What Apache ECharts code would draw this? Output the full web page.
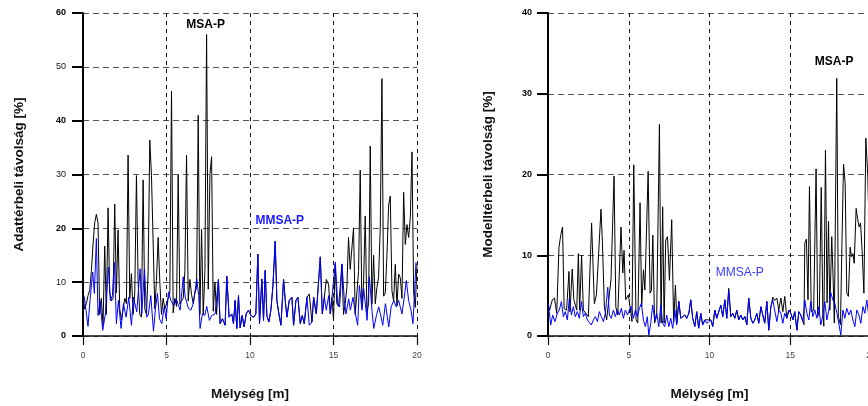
<!DOCTYPE html>
<html>
<head>
<meta charset="utf-8">
<script src="https://cdn.jsdelivr.net/npm/echarts@6/dist/echarts.min.js"></script>
<style>html,body{margin:0;padding:0;background:#fff;overflow:hidden;width:868px;height:406px;}#c{width:884px;height:406px;}</style>
</head>
<body>
<div id="c"></div>
<script>
// ---------- Tick labels ----------
var xTicks = [0, 5, 10, 15, 20];
var leftYBold = [0, 20, 40, 60];
var rightYBold = [0, 10, 20, 30, 40];
var titles = { xName: 'Mélység [m]', leftY: 'Adattérbeli távolság [%]', rightY: 'Modelltérbeli távolság [%]' };
var seriesNames = ['MSA-P', 'MMSA-P'];

// ---------- Left panel: MSA-P (black) ----------
var leftDepthMSA = [0.0,0.1,0.2,0.3,0.4,0.5,0.6,0.7,0.8,0.9,1.0,1.1,1.2,1.3,1.4,1.5,1.6,1.7,1.8,1.9,2.0,2.1,2.2,2.3,2.4,2.5,2.6,2.7,2.8,2.9,3.0,3.1,3.2,3.3,3.4,3.5,3.6,3.7,3.8,3.9,4.0,4.1,4.2,4.3,4.4,4.5,4.6,4.7,4.8,4.9,5.0,5.1,5.2,5.3,5.4,5.5,5.6,5.7,5.8,5.9,6.0,6.1,6.2,6.3,6.4,6.5,6.6,6.7,6.8,6.9,7.0,7.1,7.2,7.3,7.4,7.5,7.6,7.7,7.8,7.9,8.0,
8.11,8.21,8.35,8.51,8.61,8.75,8.91,9.01,9.11,9.21,9.31,9.41,9.53,9.65,9.77,9.91,10.05,10.21,10.35,10.47,10.57,10.71,10.81,10.91,11.01,11.13,11.25,11.37,11.51,11.61,11.73,11.85,12.01,12.11,12.21,12.35,12.51,12.61,12.75,12.87,13.01,13.13,13.25,13.41,13.55,13.71,13.81,13.97,14.07,14.21,14.33,14.45,14.57,14.71,14.81,14.91,
15.0,15.1,15.2,15.3,15.4,15.5,15.6,15.7,15.8,15.9,16.0,16.1,16.2,16.3,16.4,16.5,16.6,16.7,16.8,16.9,17.0,17.1,17.2,17.3,17.4,17.5,17.6,17.7,17.8,17.9,18.0,18.1,18.2,18.3,18.4,18.5,18.6,18.7,18.8,18.9,19.0,19.1,19.2,19.3,19.4,19.5,19.6,19.7,19.8,19.9,20.0];
var leftMSA = [7.5,5,6,7.5,8.5,12,17,21,22.6,21,4,7,2,16.7,4,23.8,8,6.5,7,24.5,8,19.7,5,3,5,7,6,33.6,7,11.6,4,8,29.8,10,4,3.5,29,5,4,12,36.4,29.8,29.8,5,10.3,18.3,10,4,7,5,6,6,8,45.5,4.3,7,5.5,29.9,5.9,6.5,7,12,33.6,6.5,10.5,7.7,6,8,9,41,4,19.8,4,12,56,8.7,30,33.3,4.6,10,4,
10.5,2.3,3.2,2.0,11.1,3.5,4.1,2.3,6.6,1.4,7.5,1.5,3.8,1.7,4.1,4.8,3.8,3.5,4.1,15.2,2.3,10.6,2.9,12.2,3.8,2.6,4.8,9.2,17.6,6.6,4.1,2.0,10.5,6.6,3.5,6.6,7.2,2.0,6.6,7.2,2.3,3.8,2.3,7.2,7.8,2.6,7.2,4.1,3.8,14.7,4.1,7.2,10.5,9.5,4.1,7.2,
3,13.3,6,5.5,9,13.3,4,6,9,18.3,12.4,12.5,20.1,4,3.7,12,30.8,5.3,10,22.3,4.5,6,35.3,5.9,15,6,9,11,20,47.8,7.4,8,15,24.3,26,8.4,6.5,13.3,5.6,11.5,10.8,7,26.7,17,20.7,18.3,22,34.2,8,5.3,13.5];

// ---------- Left panel: MMSA-P (blue) ----------
var leftDepthMMSA = [0.06,0.18,0.30,0.42,0.58,0.68,0.80,0.90,1.02,1.18,1.34,1.52,1.64,1.76,1.88,2.00,2.12,2.28,2.42,2.58,2.74,2.90,3.02,3.22,3.42,3.52,3.68,3.82,3.92,4.06,4.22,4.34,4.46,4.58,4.72,4.86,4.98,5.12,5.26,5.42,5.58,5.82,6.00,6.12,6.32,6.46,6.60,6.81,6.93,7.01,7.15,7.29,7.41,7.57,7.71,7.91,8.11,8.21,8.35,8.51,8.61,8.75,8.91,9.01,9.11,9.21,9.31,9.41,9.53,9.65,9.77,9.91,10.05,10.21,10.35,10.47,10.57,10.71,10.81,10.91,11.01,11.13,11.25,11.37,11.51,11.61,11.73,11.85,12.01,12.11,12.21,12.35,12.51,12.61,12.75,12.87,13.01,13.13,13.25,13.41,13.55,13.71,13.81,13.97,14.07,14.21,14.33,14.45,14.57,14.71,14.81,14.91,15.11,15.25,15.37,15.51,15.65,15.75,15.91,16.01,16.17,16.31,16.45,16.55,16.71,16.81,17.01,17.15,17.31,17.41,17.57,17.71,17.81,17.95,18.11,18.31,18.45,18.61,18.76,18.90,19.10,19.24,19.36,19.50,19.64,19.76,19.94];
var leftMMSA = [7.5,4.8,1.8,6.6,11.9,7.9,18.1,3.8,6.6,1.05,4.1,12.8,6.6,7.5,13.7,2.3,6.6,1.4,6.0,3.5,7.2,2.0,7.2,4.5,12.5,4.1,12.5,3.5,4.1,7.5,0.9,5.1,7.9,3.2,2.3,5.4,3.2,8.2,6.6,5.7,6.9,4.8,11.0,7.2,5.1,4.8,6.0,10.6,7.5,1.4,4.1,3.8,5.5,2.9,3.8,4.1,10.5,2.3,3.2,2.0,11.1,3.5,4.1,2.3,6.6,1.4,7.5,1.5,3.8,1.7,4.1,4.8,3.8,3.5,4.1,15.2,2.3,10.6,2.9,12.2,3.8,2.6,4.8,9.2,17.6,6.6,4.1,2.0,10.5,6.6,3.5,6.6,7.2,2.0,6.6,7.2,2.3,3.8,2.3,7.2,2.0,2.6,7.2,4.1,3.8,14.7,4.1,7.2,4.8,7.5,4.1,7.2,13.7,6.0,5.4,13.4,6.6,4.1,6.9,4.8,7.2,4.1,2.0,9.4,4.8,8.8,2.9,11.0,4.5,1.4,3.8,5.4,4.1,2.0,6.0,1.7,5.4,6.6,5.4,6.6,4.1,7.2,10.3,6.6,4.8,2.3,13.7];

// ---------- Right panel: MSA-P (black) ----------
var rightDepthMSA = [0.0,0.1,0.27,0.4,0.54,0.68,0.8,0.9,1.0,1.15,1.3,1.36,1.5,1.6,1.78,1.88,1.96,2.08,2.19,2.3,2.5,2.7,2.87,3.0,3.12,3.28,3.37,3.49,3.63,3.9,4.09,4.2,4.32,4.52,4.63,4.71,4.81,4.98,5.1,5.2,5.31,5.45,5.56,5.7,5.8,5.91,6.0,6.2,6.32,6.4,6.49,6.6,6.73,6.9,7.0,7.1,7.19,7.29,7.4,7.52,7.66,7.78,7.89,7.98,8.10,
8.22,8.34,8.47,8.59,8.72,8.84,8.96,9.09,9.21,9.33,9.46,9.58,9.71,9.83,9.95,10.08,10.20,10.33,10.45,10.57,10.70,10.82,10.95,11.07,11.19,11.32,11.44,11.57,11.69,11.81,11.94,12.06,12.19,12.31,12.43,12.56,12.68,12.80,12.93,13.05,13.18,13.30,13.42,13.55,13.67,13.80,13.92,14.04,14.17,14.29,14.42,14.54,14.66,14.79,14.91,15.04,15.16,15.28,15.41,15.53,15.65,15.78,
15.85,15.9,16.0,16.1,16.19,16.3,16.45,16.6,16.7,16.8,16.92,17.02,17.08,17.18,17.28,17.37,17.45,17.57,17.65,17.73,17.88,17.98,18.11,18.2,18.3,18.4,18.5,18.6,18.71,18.79,18.88,18.96,19.08,19.18,19.27,19.35,19.45,19.56,19.68,19.8,19.9,20.0];
var rightMSA = [4,3.2,4.5,4.7,2.8,11,12.6,13.5,3.4,3.2,8,3,8.3,4.5,3.2,10.2,3.2,10,3.2,3,2.4,14,4,5.1,5.3,15.7,11.5,3.6,2,7,19.8,3.6,2.6,13.5,7.8,10.6,4.5,5.1,5.1,1.8,21.2,2,1.6,16.5,3.6,8.2,5.7,20.4,5.3,5.6,12.5,1.6,2.5,26.2,1.6,16,1.6,11.9,12.3,6.9,14.4,1.6,6.3,1.6,4.3,
2.2,2.0,2.6,2.2,2.8,4.5,2.2,1.2,3.0,1.0,2.8,1.4,2.0,2.0,2.0,2.0,1.2,3.2,2.2,2.0,3.8,2.4,4.5,2.2,5.9,2.4,2.8,2.2,3.2,2.0,2.6,2.0,2.4,1.4,4.7,2.2,1.6,2.0,2.8,1.6,3.6,2.6,1.6,4.3,0.7,3.6,4.8,4.4,4.7,3.2,4.7,3.0,4.9,2.2,3.2,2.8,2.0,3.0,0.7,3.0,2.6,1.8,
1.4,11.5,12,4.5,18.5,3.0,3.2,20.7,2.4,3.2,18.4,2.8,1.2,23,4.1,14.2,3.2,12.3,7.3,1.6,31.9,2.4,1.4,11.4,21.3,18.9,5.3,4.9,11,9.8,10.2,9,15.8,14.4,13.5,14,10.6,5.3,24.5,19.8,12,8];

// ---------- Right panel: MMSA-P (blue) ----------
var rightDepthMMSA = [0.02,0.17,0.29,0.43,0.58,0.70,0.83,0.95,1.07,1.20,1.32,1.45,1.57,1.69,1.82,1.94,2.07,2.19,2.31,2.44,2.56,2.68,2.81,2.93,3.06,3.18,3.30,3.43,3.55,3.70,3.80,3.92,4.05,4.17,4.30,4.42,4.54,4.67,4.79,4.92,5.04,5.16,5.29,5.41,5.53,5.66,5.78,5.91,6.03,6.15,6.24,6.36,6.48,6.61,6.73,6.86,6.98,7.10,7.23,7.35,7.48,7.60,7.72,7.85,7.97,8.10,8.22,8.34,8.47,8.59,8.72,8.84,8.96,9.09,9.21,9.33,9.46,9.58,9.71,9.83,9.95,10.08,10.20,10.33,10.45,10.57,10.70,10.82,10.95,11.07,11.19,11.32,11.44,11.57,11.69,11.81,11.94,12.06,12.19,12.31,12.43,12.56,12.68,12.80,12.93,13.05,13.18,13.30,13.42,13.55,13.67,13.80,13.92,14.04,14.17,14.29,14.42,14.54,14.66,14.79,14.91,15.04,15.16,15.28,15.41,15.53,15.65,15.78,15.90,16.03,16.15,16.27,16.40,16.52,16.65,16.77,16.89,17.02,17.14,17.27,17.39,17.51,17.64,17.76,17.89,18.01,18.13,18.26,18.38,18.50,18.63,18.75,18.88,19.00,19.12,19.25,19.37,19.50,19.62,19.74,19.87,20.0];
var rightMMSA = [4.05,1.36,2.6,1.78,2.81,3.22,4.26,2.4,3.02,1.98,4.67,2.6,3.64,2.4,3.02,2.19,4.26,2.4,2.81,1.98,2.19,1.36,1.98,2.4,1.78,3.02,2.4,1.78,2.81,6.03,2.6,2.19,3.22,2.4,3.22,2.6,3.43,2.19,3.22,2.6,3.22,3.64,2.19,3.22,2.4,3.43,4.05,1.98,1.16,2.4,0.1,1.57,3.84,1.98,2.81,1.16,3.84,1.57,1.16,2.6,1.16,2.19,0.95,3.22,1.36,4.26,2.19,1.98,2.6,2.19,2.81,4.46,2.19,1.16,3.02,0.95,2.81,1.36,1.98,1.57,1.36,1.98,1.16,3.22,2.19,1.98,3.84,2.4,4.46,2.19,5.62,2.4,2.81,2.19,3.22,1.98,2.6,1.98,2.4,1.36,4.67,2.19,1.57,1.98,2.81,1.57,3.64,2.6,1.57,4.26,0.74,3.64,4.46,4.46,1.78,3.22,2.81,1.57,2.81,2.19,3.22,2.81,1.98,3.02,0.74,3.02,2.6,1.78,4.46,2.81,1.98,4.26,2.4,3.22,2.19,3.64,1.36,2.6,4.26,1.98,3.22,5.37,4.46,4.05,2.81,2.6,0.12,3.22,2.19,3.43,2.6,3.22,1.98,1.16,3.22,2.6,1.57,3.64,2.81,4.46,2.4,3.0];

// ---------- Label anchors (data coordinates) ----------
var leftLabelMSA = [7.34, 57.8];
var leftLabelMMSA = [11.78, 21.5];
var rightLabelMSA = [17.72, 34.0];
var rightLabelMMSA = [11.87, 7.8];

function pairs(xs, ys) { return xs.map(function (x, i) { return [x, ys[i]]; }); }

var FONT = '"Liberation Sans", Arial, Helvetica, sans-serif';

function xAxisCfg(gi) {
  return {
    type: 'value', gridIndex: gi, min: 0, max: 20, interval: 5,
    axisLine: { show: true, onZero: false, lineStyle: { color: '#111', width: 1.5 } },
    axisTick: { show: true, length: 9, lineStyle: { color: '#111', width: 1.2 } },
    axisLabel: { margin: 15, fontSize: 8.5, color: '#444', fontFamily: FONT, hideOverlap: false },
    splitLine: { show: true, lineStyle: { type: [4, 4], color: '#111', width: 1 } },
    name: titles.xName, nameLocation: 'middle', nameGap: 51,
    nameTextStyle: { fontWeight: 'bold', fontSize: 13.5, color: '#111', fontFamily: FONT }
  };
}
function yAxisCfg(gi, max, boldList, name, gap, margin) {
  return {
    type: 'value', gridIndex: gi, min: 0, max: max, interval: 10,
    axisLine: { show: true, onZero: false, lineStyle: { color: '#000', width: 2 } },
    axisTick: { show: true, length: 11, lineStyle: { color: '#000', width: 2 } },
    axisLabel: {
      margin: margin, fontFamily: FONT,
      formatter: function (v) { return (boldList.indexOf(v) >= 0 ? '{b|' : '{n|') + v + '}'; },
      rich: {
        b: { fontSize: 9, fontWeight: 'bold', color: '#000', fontFamily: FONT },
        n: { fontSize: 9, fontWeight: 'normal', color: '#111', fontFamily: FONT }
      }
    },
    splitLine: { show: true, lineStyle: { type: [6, 4], color: '#555', width: 1 } },
    name: name, nameLocation: 'middle', nameGap: gap,
    nameTextStyle: { fontWeight: 'bold', fontSize: 13.5, color: '#111', fontFamily: FONT }
  };
}
function mp(coord, text, color, weight) {
  return {
    symbol: 'circle', symbolSize: 0, silent: true, animation: false,
    label: { show: true, position: 'inside', formatter: text, color: color, fontWeight: weight, fontSize: 12, fontFamily: FONT },
    data: [{ coord: coord }]
  };
}
function lineSeries(gi, data, color, markPoint) {
  return {
    type: 'line', xAxisIndex: gi, yAxisIndex: gi, data: data,
    showSymbol: false, symbol: 'none', animation: false,
    lineStyle: { color: color, width: 1 }, markPoint: markPoint
  };
}

var chart = echarts.init(document.getElementById('c'), null, { renderer: 'canvas' });
chart.setOption({
  backgroundColor: '#fff',
  animation: false,
  grid: [
    { left: 83, top: 13, width: 334, height: 323 },
    { left: 548, top: 13, width: 323, height: 323 }
  ],
  xAxis: [xAxisCfg(0), xAxisCfg(1)],
  yAxis: [
    yAxisCfg(0, 60, leftYBold, titles.leftY, 57, 17),
    yAxisCfg(1, 40, rightYBold, titles.rightY, 53, 16)
  ],
  series: [
    lineSeries(0, pairs(leftDepthMSA, leftMSA), '#000', mp(leftLabelMSA, seriesNames[0], '#000', 'bold')),
    lineSeries(0, pairs(leftDepthMMSA, leftMMSA), '#0000ff', mp(leftLabelMMSA, seriesNames[1], '#1a1aff', 'bold')),
    lineSeries(1, pairs(rightDepthMSA, rightMSA), '#000', mp(rightLabelMSA, seriesNames[0], '#000', 'bold')),
    lineSeries(1, pairs(rightDepthMMSA, rightMMSA), '#0000ff', mp(rightLabelMMSA, seriesNames[1], '#3a3aff', 'normal'))
  ]
});
</script>
</body>
</html>
